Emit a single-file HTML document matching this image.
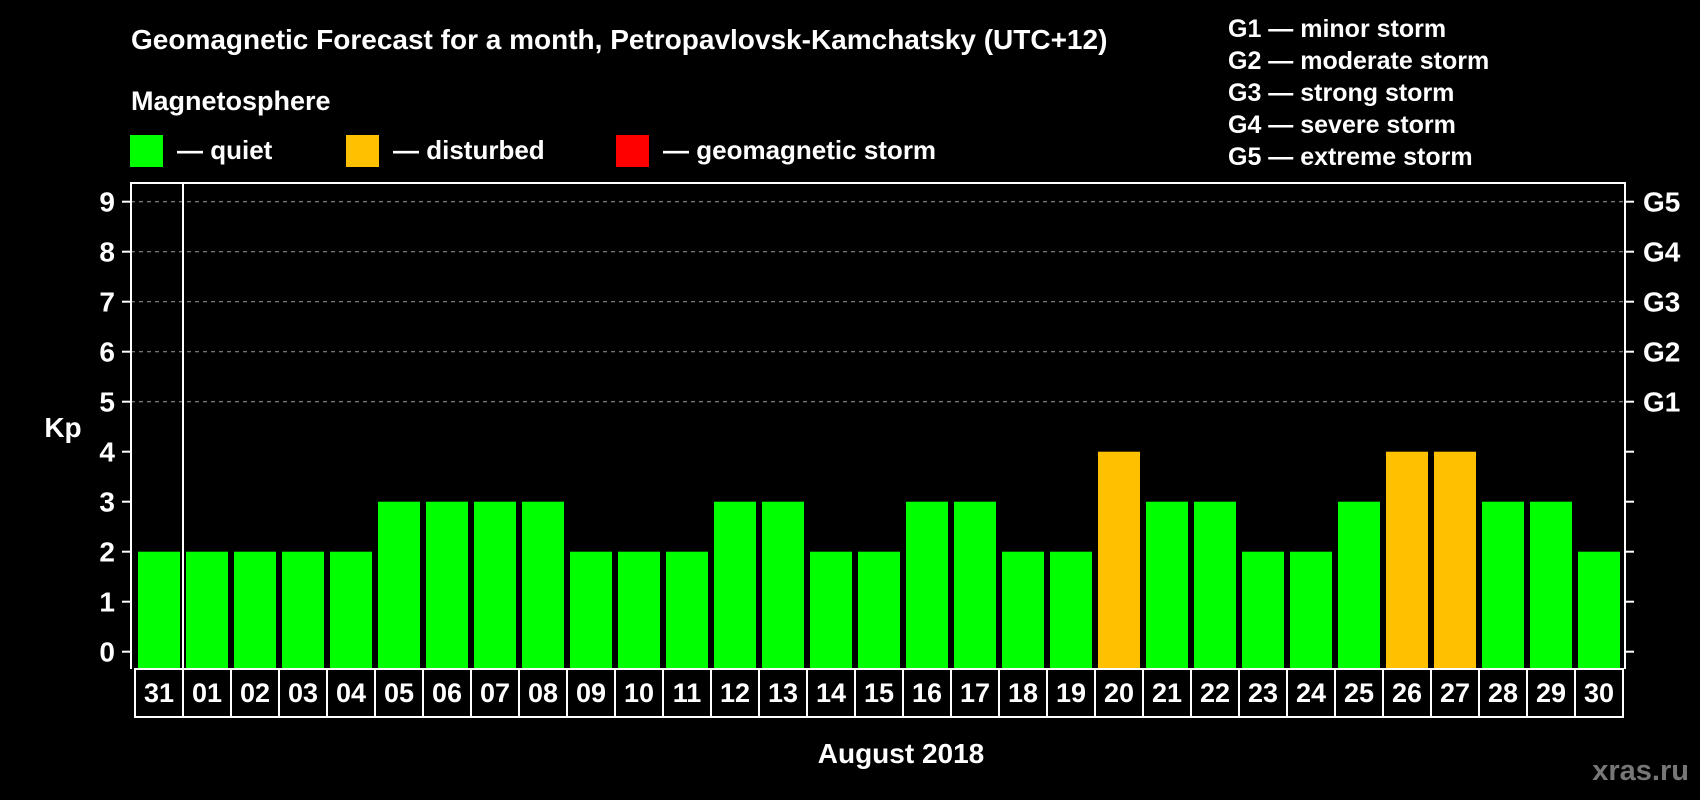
<!DOCTYPE html>
<html><head><meta charset="utf-8"><style>
html,body{margin:0;padding:0;background:#000;}
svg{display:block;font-family:"Liberation Sans",sans-serif;font-weight:bold;}
</style></head><body>
<svg id="c" width="1700" height="800" viewBox="0 0 1700 800">
<rect width="1700" height="800" fill="#000"/>
<text x="131" y="49" font-size="28" fill="#fff">Geomagnetic Forecast for a month, Petropavlovsk-Kamchatsky (UTC+12)</text>
<text x="131" y="110" font-size="27" fill="#fff">Magnetosphere</text>
<rect x="130" y="135" width="33" height="32" fill="#00ff00"/>
<text x="177" y="159" font-size="26" fill="#fff">— quiet</text>
<rect x="346" y="135" width="33" height="32" fill="#ffc000"/>
<text x="393" y="159" font-size="26" fill="#fff">— disturbed</text>
<rect x="616" y="135" width="33" height="32" fill="#ff0000"/>
<text x="663" y="159" font-size="26" fill="#fff">— geomagnetic storm</text>
<g font-size="25" fill="#fff">
<text x="1228" y="37">G1 — minor storm</text>
<text x="1228" y="69">G2 — moderate storm</text>
<text x="1228" y="101">G3 — strong storm</text>
<text x="1228" y="133">G4 — severe storm</text>
<text x="1228" y="165">G5 — extreme storm</text>
</g>
<g id="grid"></g>
<g id="bars"></g>
<g id="axes"></g>
<text x="63" y="437" font-size="28" fill="#fff" text-anchor="middle">Kp</text>
<text x="901" y="763" font-size="28" fill="#fff" text-anchor="middle">August 2018</text>
<text x="1689" y="780" font-size="29" fill="#777" text-anchor="end">xras.ru</text>
</svg>
<script>
const days = ["31","01","02","03","04","05","06","07","08","09","10","11","12","13","14","15","16","17","18","19","20","21","22","23","24","25","26","27","28","29","30"];
const kp = [2,2,2,2,2,3,3,3,3,2,2,2,3,3,2,2,3,3,2,2,4,3,3,2,2,3,4,4,3,3,2];
const yTicks = [0,1,2,3,4,5,6,7,8,9];
const gLabels = ["G1","G2","G3","G4","G5"];
const gLevels = [5,6,7,8,9];

const NS = "http://www.w3.org/2000/svg";
const L = 131, R = 1625, T = 183, B = 669, X0 = 135, STEP = 48;
const y = v => 651.7 - v * 50;
const x = i => X0 + i * STEP;
function mk(tag, attrs, parent){ const e = document.createElementNS(NS, tag); for (const k in attrs) e.setAttribute(k, attrs[k]); parent.appendChild(e); return e; }
const grid = document.getElementById('grid'), bars = document.getElementById('bars'), axes = document.getElementById('axes');

gLevels.forEach((lv, i) => {
  const ln = mk('line', {x1: L, x2: R, y1: y(lv), y2: y(lv), stroke: '#999', 'stroke-width': 1, 'stroke-dasharray': '4,4'}, grid);
  
  
  const t = mk('text', {x: 1643, y: y(lv) + 10, 'font-size': 28, fill: '#fff'}, axes);
  t.textContent = gLabels[i];
  
  
});

kp.forEach((v, i) => {
  const col = v >= 5 ? '#ff0000' : (v >= 4 ? '#ffc000' : '#00ff00');
  const r = mk('rect', {x: x(i) + 3, y: y(v), width: 42, height: B - y(v), fill: col}, bars);
  
  
  const cell = mk('rect', {x: x(i), y: B, width: STEP, height: 48, fill: 'none', stroke: '#fff', 'stroke-width': 2}, axes);
  
  
  const t = mk('text', {x: x(i) + STEP / 2, y: B + 33, 'font-size': 27, fill: '#fff', 'text-anchor': 'middle'}, axes);
  t.textContent = days[i];
  
  
});

yTicks.forEach(v => {
  const t = mk('text', {x: 115, y: y(v) + 10, 'font-size': 28, fill: '#fff', 'text-anchor': 'end'}, axes);
  t.textContent = v;
  
  
  const tk = mk('line', {x1: 122, x2: L, y1: y(v), y2: y(v), stroke: '#fff', 'stroke-width': 2}, axes);
  
  
  const tk2 = mk('line', {x1: R, x2: 1634, y1: y(v), y2: y(v), stroke: '#fff', 'stroke-width': 2}, axes);
  
  
});

const frame = mk('path', {d: `M${L},${B} L${L},${T} L${R},${T} L${R},${B}`, fill: 'none', stroke: '#fff', 'stroke-width': 2}, axes);


const sep = mk('line', {x1: 183, x2: 183, y1: T, y2: B, stroke: '#fff', 'stroke-width': 2}, axes);


</script>
</body></html>
